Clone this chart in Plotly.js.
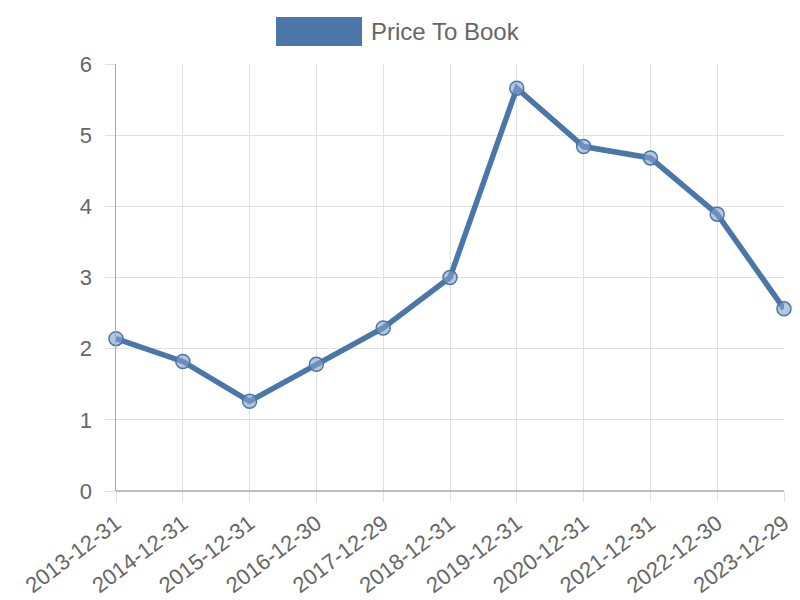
<!DOCTYPE html>
<html>
<head>
<meta charset="utf-8">
<script src="https://cdn.plot.ly/plotly-3.0.1.min.js"></script>
<style>html,body{margin:0;padding:0;background:#fff;}#chart{width:800px;height:600px;}</style>
</head>
<body>
<div id="chart"></div>
<script>
const categories = ["2013-12-31","2014-12-31","2015-12-31","2016-12-30","2017-12-29","2018-12-31","2019-12-31","2020-12-31","2021-12-31","2022-12-30","2023-12-29"];
const priceToBook = [2.14, 1.82, 1.26, 1.78, 2.29, 3.00, 5.66, 4.84, 4.68, 3.89, 2.56];
const seriesName = "Price To Book";
const yTicks = [0, 1, 2, 3, 4, 5, 6];

const lineColor = "#4b77a8";
const gridColor = "#e0e0e0";
const axisColor = "#a8a8a8";
const textColor = "#666666";
const fontFamily = "'Liberation Sans', Arial, Helvetica, sans-serif";

const trace = {
  x: categories,
  y: priceToBook,
  type: "scatter",
  mode: "lines+markers",
  name: seriesName,
  showlegend: false,
  cliponaxis: false,
  line: {color: lineColor, width: 5.5},
  marker: {size: 14, color: "rgba(130,160,205,0.6)", line: {color: lineColor, width: 1.5}},
  hoverinfo: "x+y"
};

const L = 116, R = 784, T = 64, B = 491;
const px = v => (v - L) / (R - L);
const py = v => (B - v) / (B - T);

const layout = {
  width: 800, height: 600,
  margin: {l: L, r: 800 - R, t: T, b: 600 - B},
  paper_bgcolor: "#fff", plot_bgcolor: "#fff",
  font: {family: fontFamily, color: textColor, size: 22},
  showlegend: false,
  xaxis: {
    type: "category",
    range: [0, categories.length - 1],
    showgrid: true, gridcolor: gridColor, gridwidth: 1,
    ticks: "outside", ticklen: 10, tickcolor: gridColor, tickwidth: 1,
    tickangle: -37,
    ticklabelstandoff: 0,
    tickfont: {size: 22, color: textColor, family: fontFamily},
    showline: false, zeroline: false,
    fixedrange: true
  },
  yaxis: {
    range: [0, 6],
    tickvals: yTicks,
    ticktext: yTicks.map(String),
    showgrid: true, gridcolor: gridColor, gridwidth: 1,
    ticks: "outside", ticklen: 10, tickcolor: gridColor, tickwidth: 1,
    ticklabelstandoff: 8,
    tickfont: {size: 22, color: textColor, family: fontFamily},
    showline: true, linecolor: axisColor, linewidth: 1.5,
    zeroline: false,
    fixedrange: true
  },
  shapes: [
    {type: "line", xref: "paper", yref: "paper", x0: 0, x1: 1, y0: 0, y1: 0,
     line: {color: axisColor, width: 1.5}},
    {type: "rect", xref: "paper", yref: "paper",
     x0: px(276), x1: px(362), y0: py(46), y1: py(17),
     fillcolor: lineColor, line: {width: 0}}
  ],
  annotations: [
    {xref: "paper", yref: "paper", x: px(369), y: py(32), xanchor: "left", yanchor: "middle",
     text: seriesName, showarrow: false,
     font: {size: 24, color: textColor, family: fontFamily}}
  ]
};

Plotly.newPlot("chart", [trace], layout, {displayModeBar: false, staticPlot: true});
</script>
</body>
</html>
